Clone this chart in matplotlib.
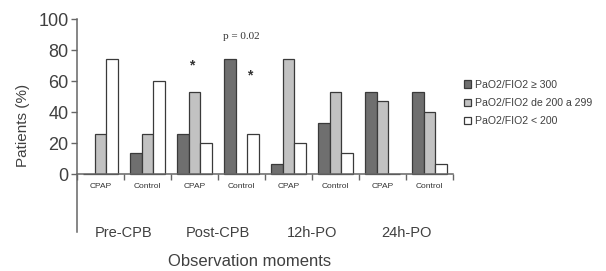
import matplotlib.pyplot as plt
from matplotlib.patches import Rectangle

momentos = ['Pre-CPB', 'Post-CPB', '12h-PO', '24h-PO']
grupos = ['CPAP', 'Control']
series = ['PaO2/FIO2 ≥ 300', 'PaO2/FIO2 de 200 a 299', 'PaO2/FIO2 < 200']

# un valor por subgrupo: Pre CPAP, Pre Control, Post CPAP, Post Control, ...
alto = [0, 14, 26, 74, 7, 33, 53, 53]
medio = [26, 26, 53, 0, 74, 53, 47, 40]
bajo = [74, 60, 20, 26, 20, 14, 0, 7]

colores = ['#6f6f6f', '#c2c2c2', '#ffffff']
texto = '#404040'

plt.rcParams['font.family'] = ['Liberation Sans', 'DejaVu Sans']

fig = plt.figure(figsize=(6.06, 2.71), dpi=100)
ax = fig.add_axes([77 / 606, 1 - 232 / 271, (453 - 77) / 606, 213 / 271])

n = len(alto)
centros = [i + 0.5 for i in range(n)]
ancho = 0.25
for k, valores in enumerate([alto, medio, bajo]):
    xs = [c + (k - 1) * ancho for c in centros]
    ax.bar(xs, valores, width=ancho, color=colores[k], edgecolor='#3a3a3a', linewidth=0.9)

ax.set_xlim(0, n)
ax.set_ylim(-37, 100)
ax.set_yticks([0, 20, 40, 60, 80, 100])
ax.tick_params(axis='y', labelsize=13, colors='#666666', labelcolor=texto, length=4, width=1, pad=2)
ax.set_xticks(range(n + 1))
ax.set_xticklabels([])
ax.tick_params(axis='x', length=4, width=1, colors='#666666')

for lado in ['top', 'right']:
    ax.spines[lado].set_visible(False)
ax.spines['bottom'].set_position(('data', 0))
ax.spines['bottom'].set_color('#666666')
ax.spines['left'].set_color('#666666')
ax.spines['bottom'].set_linewidth(1.1)
ax.spines['left'].set_linewidth(1.1)

for i, c in enumerate(centros):
    ax.text(c, -8, grupos[i % 2], ha='center', va='center', fontsize=6, color='#333333')

for j, nombre in enumerate(momentos):
    ax.text(2 * j + 1, -37.5, nombre, ha='center', va='center', fontsize=10.5, color=texto, clip_on=False)

ax.set_ylabel('Patients (%)', fontsize=11, color=texto, labelpad=6)
fig.text(250 / 606, 1 - 262 / 271, 'Observation moments', ha='center', va='center', fontsize=12, color=texto)

ax.text(3.5, 89, 'p = 0.02', ha='center', va='center', fontsize=8, color='#333333', family='Liberation Serif')
ax.text(2.45, 70, '*', ha='center', va='center', fontsize=10, color='#333333', fontweight='bold')
ax.text(3.68, 64, '*', ha='center', va='center', fontsize=10, color='#333333', fontweight='bold')

manejadores = [Rectangle((0, 0), 1, 1, facecolor=colores[k], edgecolor='#3a3a3a', linewidth=0.9) for k in range(3)]
fig.legend(manejadores, series, loc='upper left', bbox_to_anchor=(454 / 606, 1 - 70 / 271),
           frameon=False, fontsize=7.6, handlelength=0.7, handleheight=0.7,
           handletextpad=0.4, labelspacing=0.8, labelcolor=texto)

fig.savefig('out.png', dpi=100)
